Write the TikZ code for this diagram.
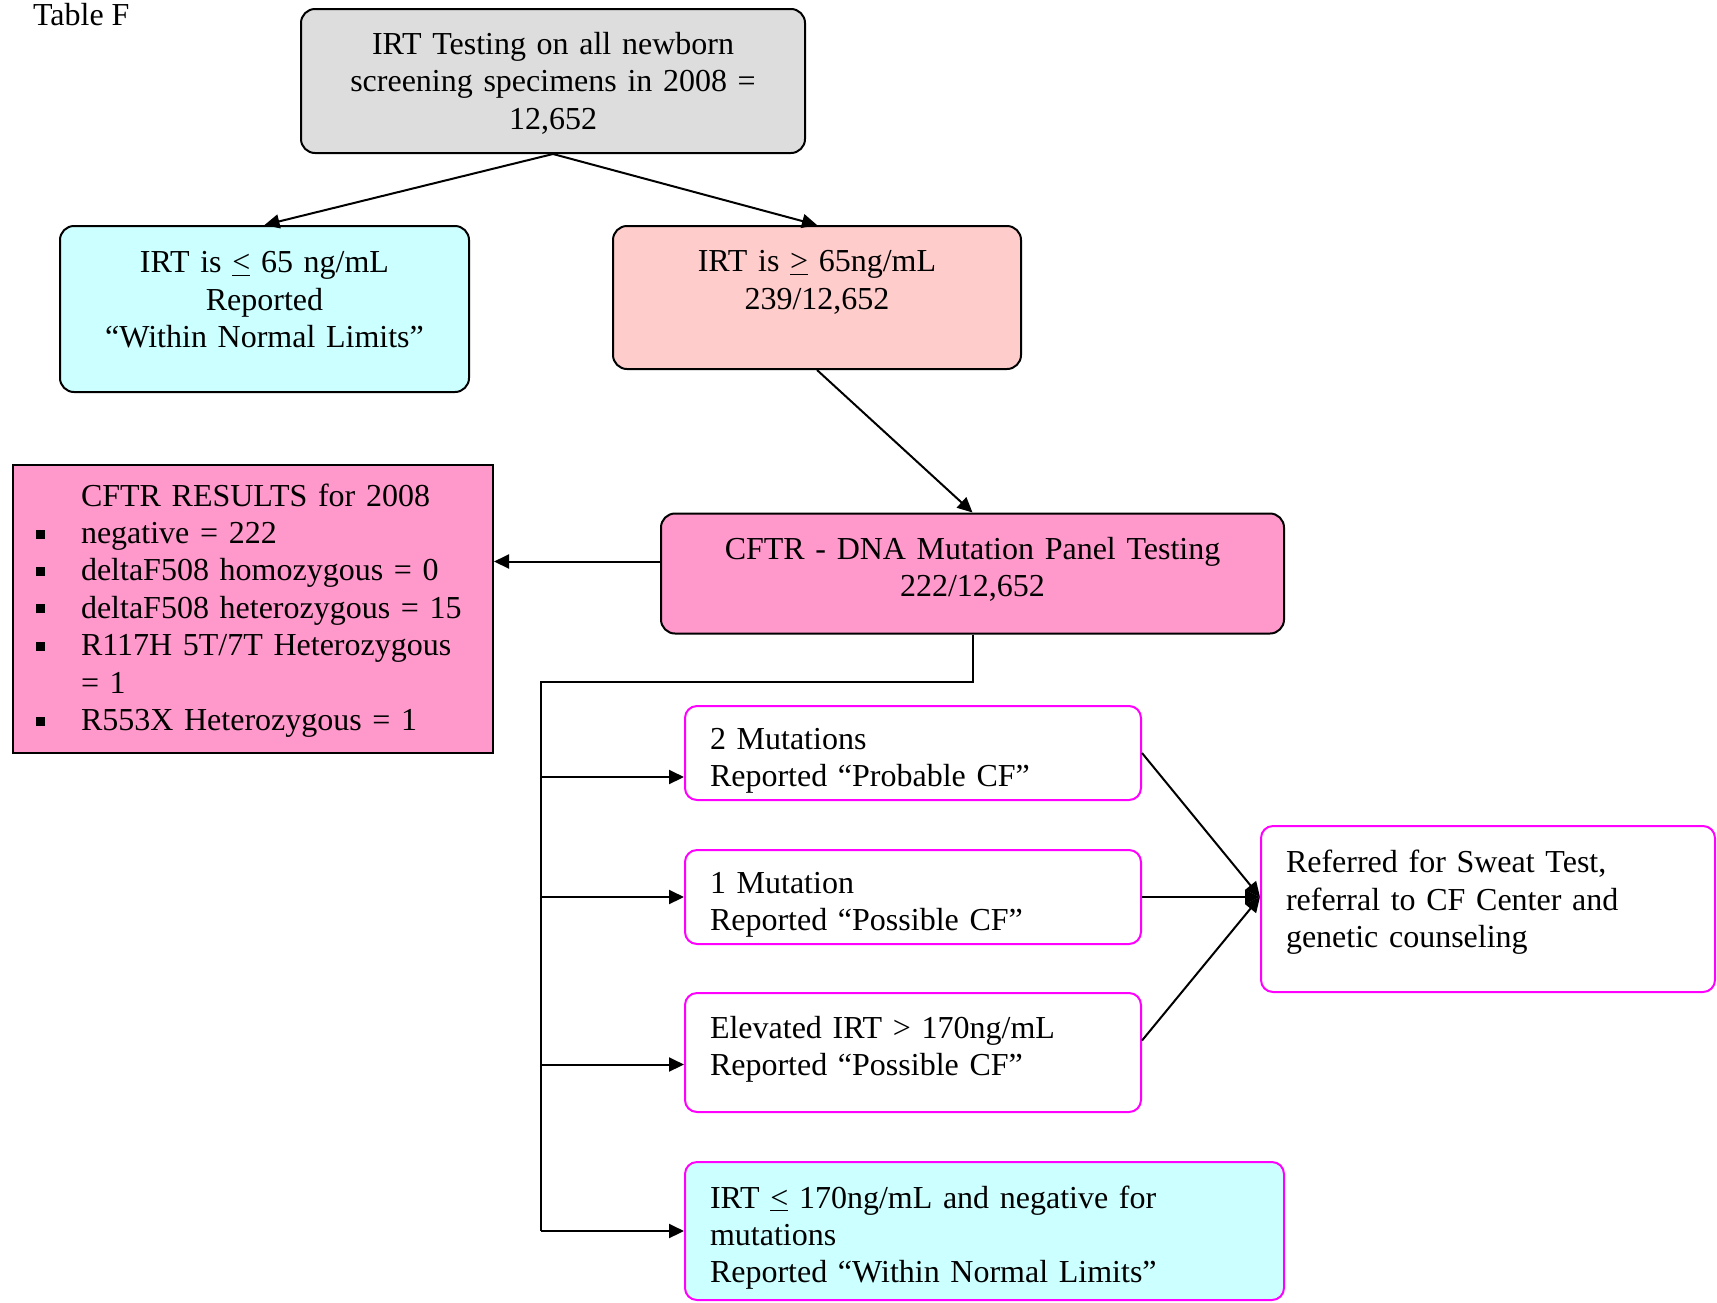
\documentclass[tikz,border=0pt]{standalone}
\usepackage{fontspec}
\setmainfont{Liberation Serif}
\usepackage{xcolor}
\usepackage{tikz}
\usetikzlibrary{arrows.meta, positioning, calc}

\definecolor{boxgray}{HTML}{DDDDDD}
\definecolor{wnlcyan}{HTML}{CCFFFF}
\definecolor{highpink}{HTML}{FFCCCC}
\definecolor{cftrpink}{HTML}{FF99CC}
\definecolor{rimmagenta}{HTML}{FF00FF}

\newcommand{\lequ}{\underline{<}}
\newcommand{\gequ}{\underline{>}}
\newcommand{\bul}{\makebox[22.5pt][l]{\rule[2.5pt]{4.5pt}{4.5pt}}}

\begin{document}
\begin{tikzpicture}[
    x=0.5pt, y=-0.5pt,
    font=\fontsize{16}{18.7}\selectfont,
    block/.style={rectangle, draw, fill=#1, line width=1pt, rounded corners=7pt, inner xsep=8pt, inner ysep=0pt, align=center},
    report/.style={block=white, draw=rimmagenta, rounded corners=6pt, inner xsep=12.5pt, align=left},
    lift/.style={execute at end node={\endgraf\vspace*{#1}}},
    line/.style={line width=1pt},
    arrow/.style={-{Triangle[length=7.5pt, width=7pt]}, line width=1pt},
]
    \useasboundingbox (0,0) rectangle (1717,1302);

    \node[anchor=base west] (title) at (26,25) {Table F};

    % screening and first split
    \node[block=boxgray, text width=236pt, minimum height=72pt, lift=-2.2pt] (irt) at (553,81) {IRT Testing on all newborn\\screening specimens in 2008 =\\12,652};
    \node[block=wnlcyan, text width=188.5pt, minimum height=83pt, lift=9pt] (normal) at (264.5,309) {IRT is \lequ{} 65 ng/mL\\Reported\\“Within Normal Limits”};
    \node[block=highpink, text width=188pt, minimum height=71.5pt, lift=15.2pt] (high) at (817,297.5) {IRT is \gequ{} 65ng/mL\\239/12,652};

    % DNA panel
    \node[block=cftrpink, text width=295.5pt, minimum height=60pt, lift=4.4pt] (panel) at (972.5,573.5) {CFTR - DNA Mutation Panel Testing\\222/12,652};
    \node[block=cftrpink, rounded corners=0pt, inner xsep=11.5pt, text width=217pt, minimum height=144pt, align=left, lift=-1.5pt] (results) at (253,609) {%
        \hspace*{22.5pt}CFTR RESULTS for 2008\\
        \bul negative = 222\\
        \bul deltaF508 homozygous = 0\\
        \bul deltaF508 heterozygous = 15\\
        \bul R117H 5T/7T Heterozygous\\
        \hspace*{22.5pt}= 1\\
        \bul R553X Heterozygous = 1};

    % reported outcomes
    \node[report, text width=203pt, minimum height=47pt, lift=-7.7pt] (two) at (913,753) {2 Mutations\\Reported “Probable CF”};
    \node[report, text width=203pt, minimum height=47pt, lift=-7.7pt] (one) at (913,897) {1 Mutation\\Reported “Possible CF”};
    \node[report, text width=203pt, minimum height=59.5pt, lift=3.2pt] (elev) at (913,1052.5) {Elevated IRT > 170ng/mL\\Reported “Possible CF”};
    \node[report, fill=wnlcyan, text width=274.5pt, minimum height=69pt, lift=-6.6pt] (wnl) at (984.5,1231) {IRT \lequ{} 170ng/mL and negative for\\mutations\\Reported “Within Normal Limits”};
    \node[report, text width=202pt, minimum height=83pt, lift=6.7pt] (sweat) at (1488,909) {Referred for Sweat Test,\\referral to CF Center and\\genetic counseling};

    \draw[arrow] (irt.south) -- (normal.north);
    \draw[arrow] (irt.south) -- (high.north);
    \draw[arrow] (high.south) -- (panel.north);

    \coordinate (panelout) at ([yshift=6pt]panel.west);
    \draw[arrow] (panelout) -- (panelout -| results.east);

    \coordinate (split) at (541,682);
    \draw[line] (panel.south) |- (split) -- (split |- wnl.west);
    \coordinate (twoin) at ([yshift=-12pt]two.west);
    \coordinate (elevin) at ([yshift=-6pt]elev.west);
    \draw[arrow] (split |- twoin) -- (twoin);
    \draw[arrow] (split |- one.west) -- (one.west);
    \draw[arrow] (split |- elevin) -- (elevin);
    \draw[arrow] (split |- wnl.west) -- (wnl.west);

    \coordinate (sweatin) at (sweat.west |- one.east);
    \draw[arrow] (two.east) -- (sweatin);
    \draw[arrow] (one.east) -- (sweatin);
    \draw[arrow] ([yshift=6pt]elev.east) -- (sweatin);
\end{tikzpicture}
\end{document}
